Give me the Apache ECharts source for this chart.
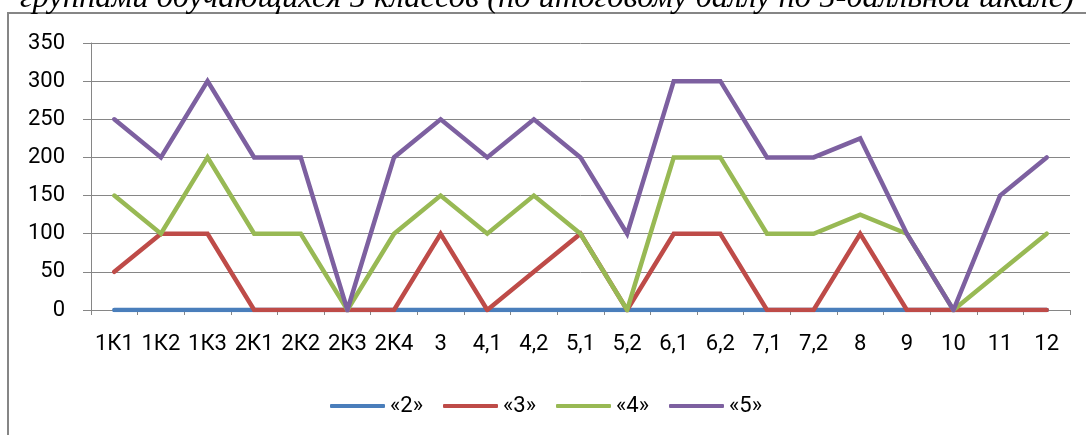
<!DOCTYPE html>
<html>
<head>
<meta charset="utf-8">
<script src="https://cdn.jsdelivr.net/npm/echarts@6/dist/echarts.min.js"></script>
<style>
  html, body { margin: 0; padding: 0; background: #fff; }
  #chart { width: 1086px; height: 435px; }
</style>
</head>
<body>
<div id="chart"></div>
<script>
// категории (классы)
const categories = ['1К1', '1К2', '1К3', '2К1', '2К2', '2К3', '2К4', '3', '4,1', '4,2', '5,1',
  '5,2', '6,1', '6,2', '7,1', '7,2', '8', '9', '10', '11', '12']

// значения по сериям
const grade2 = [0, 0, 0, 0, 0, 0, 0, 0, 0, 0, 0, 0, 0, 0, 0, 0, 0, 0, 0, 0, 0]
const grade3 = [50, 100, 100, 0, 0, 0, 0, 100, 0, 50, 100, 0, 100, 100, 0, 0, 100, 0, 0, 0, 0]
const grade4 = [150, 100, 200, 100, 100, 0, 100, 150, 100, 150, 100, 0, 200, 200, 100, 100, 125, 100, 0, 50, 100]
const grade5 = [250, 200, 300, 200, 200, 0, 200, 250, 200, 250, 200, 100, 300, 300, 200, 200, 225, 100, 0, 150, 200]

const seriesNames = ['«2»', '«3»', '«4»', '«5»']
const seriesColors = ['#4a7ebb', '#be4b48', '#98b954', '#7d60a0']
const yTicks = { min: 0, max: 350, interval: 50 }

const titleText = 'группами обучающихся 5 классов (по итоговому баллу по 5-балльной шкале)'

const chart = echarts.init(document.getElementById('chart'))

const makeSeries = (name, data, color) => ({
  name: name,
  type: 'line',
  data: data,
  symbol: 'none',
  lineStyle: { color: color, width: 4.5, cap: 'round', join: 'miter' },
  itemStyle: { color: color },
  emphasis: { disabled: true }
})

const option = {
  animation: false,
  textStyle: { fontFamily: 'Roboto' },
  graphic: [
    {
      type: 'rect',
      shape: { x: 8, y: 13, width: 1200, height: 600 },
      style: { fill: 'none', stroke: '#868686', lineWidth: 2 },
      silent: true
    },
    {
      type: 'text',
      x: 547,
      y: 15,
      style: {
        text: titleText,
        fontFamily: 'Liberation Serif',
        fontStyle: 'italic',
        fontSize: 32.5,
        fill: '#000',
        align: 'center',
        verticalAlign: 'bottom'
      },
      silent: true
    }
  ],
  grid: { left: 91, right: 16, top: 43, bottom: 125 },
  legend: {
    left: 325,
    top: 390,
    itemWidth: 55,
    itemHeight: 4,
    itemGap: 20,
    icon: 'roundRect',
    textStyle: { fontSize: 22, color: '#000', fontFamily: 'Roboto' },
    data: seriesNames
  },
  xAxis: {
    type: 'category',
    data: categories,
    boundaryGap: true,
    axisLine: { lineStyle: { color: '#868686', width: 1 } },
    axisTick: { show: true, length: 5, lineStyle: { color: '#868686' } },
    axisLabel: { fontSize: 22, color: '#000', margin: 23, interval: 0 }
  },
  yAxis: {
    type: 'value',
    min: yTicks.min,
    max: yTicks.max,
    interval: yTicks.interval,
    axisLine: { show: true, lineStyle: { color: '#868686', width: 1 } },
    axisTick: { show: true, length: 8, lineStyle: { color: '#868686' } },
    axisLabel: { fontSize: 22, color: '#000', margin: 26 },
    splitLine: { lineStyle: { color: '#868686', width: 1 } }
  },
  series: [
    makeSeries(seriesNames[0], grade2, seriesColors[0]),
    makeSeries(seriesNames[1], grade3, seriesColors[1]),
    makeSeries(seriesNames[2], grade4, seriesColors[2]),
    makeSeries(seriesNames[3], grade5, seriesColors[3])
  ]
}

chart.setOption(option)
</script>
</body>
</html>
